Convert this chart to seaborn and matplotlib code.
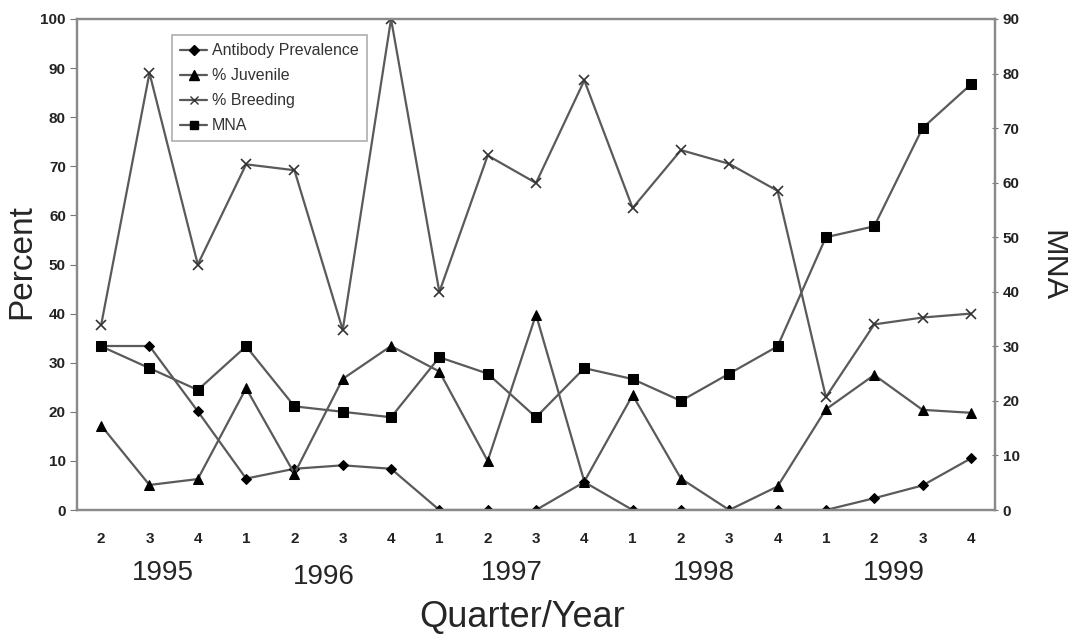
import numpy as np
import pandas as pd
import matplotlib
matplotlib.use("Agg")
import matplotlib.pyplot as plt
import matplotlib.transforms as mtransforms
from matplotlib.lines import Line2D
import seaborn as sns

# ---- data ----
quarters = ["2", "3", "4", "1", "2", "3", "4", "1", "2", "3", "4",
            "1", "2", "3", "4", "1", "2", "3", "4"]
years = ["1995", "1996", "1997", "1998", "1999"]
year_pos = [1.27, 4.6, 8.5, 12.47, 16.4]
antibody = [33.4, 33.4, 20.1, 6.4, 8.4, 9.1, 8.4, 0, 0, 0, 5.7, 0, 0, 0, 0, 0, 2.4, 5.0, 10.5]
juvenile = [17.2, 5.1, 6.3, 24.8, 7.4, 26.7, 33.4, 28.2, 10.0, 39.8, 5.8, 23.4, 6.4, 0, 4.8, 20.5, 27.5, 20.4, 19.8]
breeding = [37.7, 89.0, 50.0, 70.4, 69.2, 36.7, 100, 44.4, 72.2, 66.6, 87.5, 61.5, 73.3, 70.5, 65.0, 23.0, 37.8, 39.2, 40.0]
mna = [30, 26, 22, 30, 19, 18, 17, 28, 25, 17, 26, 24, 20, 25, 30, 50, 52, 70, 78]

idx = np.arange(len(quarters))
df = pd.DataFrame({"idx": idx, "antibody": antibody, "juvenile": juvenile,
                   "breeding": breeding, "mna": mna})

sns.set_style("white")
plt.rcParams["font.family"] = ["Liberation Sans", "DejaVu Sans"]

fig = plt.figure(figsize=(10.68, 6.34), dpi=100)
ax = fig.add_axes([77/1068, 1-510/634, (995-77)/1068, (510-19)/634])
ax2 = ax.twinx()

line_col = "#5a5a5a"
common = dict(color=line_col, linewidth=1.6, markerfacecolor="black",
              markeredgecolor="black")

sns.lineplot(data=df, x="idx", y="antibody", ax=ax, marker="D", markersize=5, **common)
sns.lineplot(data=df, x="idx", y="juvenile", ax=ax, marker="^", markersize=7, **common)
sns.lineplot(data=df, x="idx", y="breeding", ax=ax, marker="x", markersize=7,
             markeredgewidth=1.2, color=line_col, linewidth=1.6, markeredgecolor="#333333")
sns.lineplot(data=df, x="idx", y="mna", ax=ax2, marker="s", markersize=6.5, **common)

ax.set_xlim(-0.5, len(quarters) - 0.5)
ax.set_ylim(0, 100)
ax2.set_ylim(0, 90)
ax.set_yticks(np.arange(0, 101, 10))
ax2.set_yticks(np.arange(0, 91, 10))

ax.set_xticks(idx)
ax.set_xticklabels(quarters)
ax.set_xticks(np.arange(-0.5, len(quarters), 1), minor=True)
ax.tick_params(axis="x", which="major", length=0, pad=16, labelsize=11)
ax.tick_params(axis="x", which="minor", length=6, direction="inout", color="#777777", width=1.2)
ax.tick_params(axis="y", which="major", length=5, direction="out", color="#777777",
               labelsize=11, pad=3, left=True)
ax2.tick_params(axis="y", which="major", length=5, direction="inout", color="#777777",
                labelsize=11, pad=3, right=True)
for lab in ax.get_xticklabels() + ax.get_yticklabels() + ax2.get_yticklabels():
    lab.set_fontweight("bold")
    lab.set_color("#222222")

ax.set_xlabel("")
ax.set_ylabel("")
ax2.set_ylabel("")

for a in (ax, ax2):
    for s in a.spines.values():
        s.set_color("#8a8a8a")
        s.set_linewidth(1.6)
        s.set_visible(True)

trans = mtransforms.blended_transform_factory(ax.transData, ax.transAxes)
for y, p in zip(years, year_pos):
    dy = -0.136 if y == "1996" else -0.128
    ax.text(p, dy, y, transform=trans, ha="center", va="center", fontsize=20)

fig.text(522/1068, 1-618/634, "Quarter/Year", ha="center", va="center", fontsize=26)
fig.text(22/1068, 1-262/634, "Percent", ha="center", va="center", fontsize=24, rotation=90)
fig.text(1052/1068, 1-266/634, "MNA", ha="center", va="center", fontsize=23, rotation=-90)

handles = [
    Line2D([], [], color=line_col, lw=1.6, marker="D", markersize=5, markerfacecolor="black", markeredgecolor="black"),
    Line2D([], [], color=line_col, lw=1.6, marker="^", markersize=6.5, markerfacecolor="black", markeredgecolor="black"),
    Line2D([], [], color=line_col, lw=1.6, marker="x", markersize=6, markeredgecolor="#333333"),
    Line2D([], [], color=line_col, lw=1.6, marker="s", markersize=6, markerfacecolor="black", markeredgecolor="black"),
]
labels = ["Antibody Prevalence", "% Juvenile", "% Breeding", "MNA"]
leg = ax2.legend(handles, labels, loc="upper left", bbox_to_anchor=(0.1035, 0.967),
                 frameon=True, fancybox=False, fontsize=11.5, handlelength=1.7,
                 borderpad=0.5, labelspacing=0.63, handletextpad=0.3, borderaxespad=0)
leg.get_frame().set_edgecolor("#999999")
leg.get_frame().set_linewidth(1.2)
for t in leg.get_texts():
    t.set_color("#333333")

fig.savefig("out.png", dpi=100)
